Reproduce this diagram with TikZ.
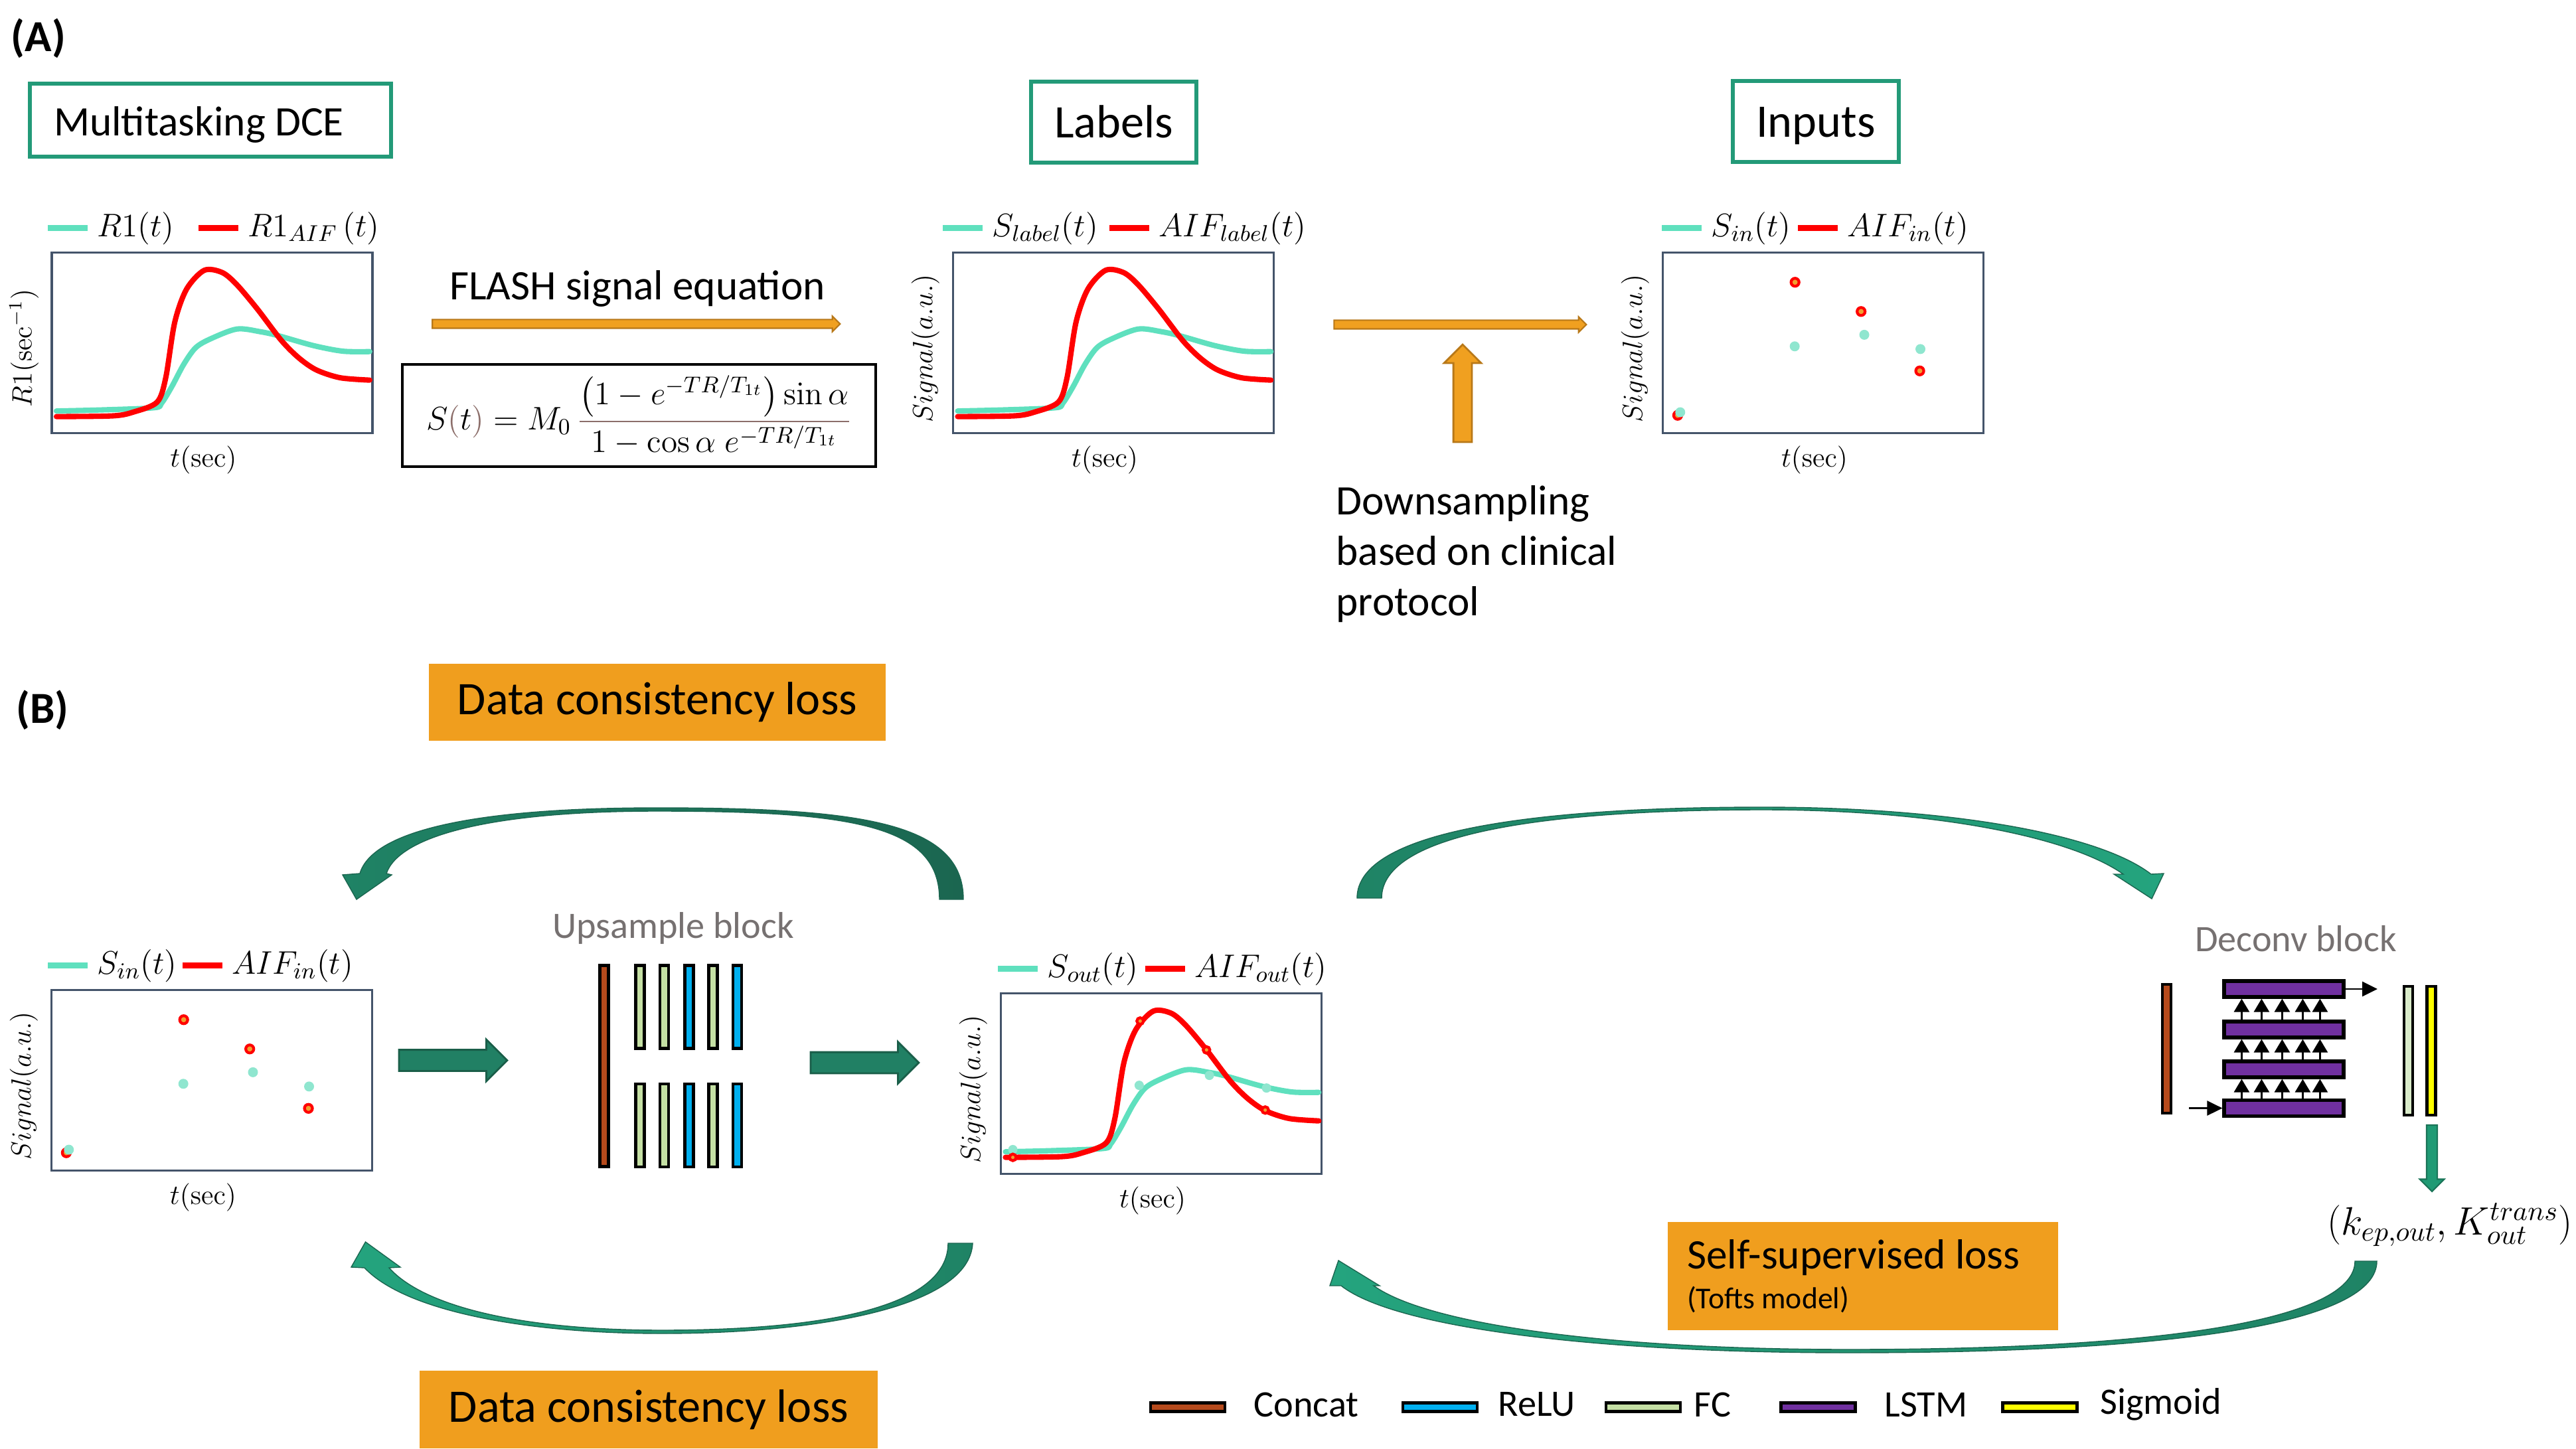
\RequirePackage{fix-cm}
\documentclass[tikz,border=0pt]{standalone}
\usepackage[no-math]{fontspec}
\setmainfont{Carlito}
\usepackage{amsmath}
\usetikzlibrary{positioning,arrows.meta,shapes.arrows}

\definecolor{boxgreen}{HTML}{239A78}
\definecolor{framegray}{HTML}{44546A}
\definecolor{tealc}{HTML}{5FE0BE}
\definecolor{lossorange}{HTML}{F09E1E}
\definecolor{arrorange}{HTML}{F0A020}
\definecolor{arredge}{HTML}{B87818}
\definecolor{eqbrown}{HTML}{8C6E6A}
\definecolor{concatc}{HTML}{B64A1C}
\definecolor{reluc}{HTML}{00B0F0}
\definecolor{fcc}{HTML}{C5E0A4}
\definecolor{fclight}{HTML}{D9EBC9}
\definecolor{lstmc}{HTML}{7030A0}
\definecolor{sigc}{HTML}{FFFF00}
\definecolor{blockgray}{HTML}{767171}
\definecolor{ribdark}{HTML}{1B6650}
\definecolor{ribmid}{HTML}{1F8365}
\definecolor{riblight}{HTML}{24A47E}
\definecolor{fatgreen}{HTML}{218064}
\definecolor{fatedge}{HTML}{1A5E49}
\definecolor{dgreen}{HTML}{1F9A74}
\definecolor{dgreenedge}{HTML}{1A7458}
\definecolor{dotorange}{HTML}{F0A030}
\definecolor{dotteal}{HTML}{8FE6CF}

\begin{document}
\begin{tikzpicture}[
    titlebox/.style={draw=boxgreen, line width=1.7pt, inner sep=0pt, text height=0.47cm, text depth=0cm},
    plotbox/.style={draw=framegray, line width=1pt, minimum width=4.83cm, minimum height=2.72cm, inner sep=0pt},
    ylab/.style={rotate=90, inner sep=0pt, font=\fontsize{12}{14}\selectfont},
    xlab/.style={inner sep=0pt, font=\fontsize{12}{14}\selectfont},
    legkey/.style={minimum width=0.6cm, minimum height=0.09cm, inner sep=0pt},
    legmath/.style={inner sep=0pt, anchor=west, font=\fontsize{14}{16}\selectfont},
    tealcurve/.style={tealc, line width=2.3pt, line cap=round, line join=round},
    redcurve/.style={red, line width=2.3pt, line cap=round, line join=round},
    reddot/.style={draw=red, fill=dotorange, line width=1.2pt},
    tealdot/.style={fill=dotteal},
    lossbox/.style={fill=lossorange, inner sep=0pt},
    layerbar/.style={draw=black, line width=1.3pt, inner sep=0pt, minimum width=0.13cm},
    blocktitle/.style={text=blockgray, inner sep=0pt, font=\fontsize{16}{19}\selectfont},
    thinarrow/.style={single arrow, fill=arrorange, draw=arredge, line width=0.6pt, inner sep=0.055cm, single arrow head extend=0.05cm},
    fatarrow/.style={single arrow, fill=fatgreen, draw=fatedge, line width=0.8pt, inner sep=0.145cm, single arrow head extend=0.155cm},
    ribbon/.style={draw=ribdark, line width=0.4pt},
    smallup/.style={line width=0.8pt, -{Triangle[width=0.23cm,length=0.2cm]}},
    sidearrow/.style={line width=0.8pt, -{Triangle[width=0.22cm,length=0.23cm]}},
]
\useasboundingbox (0,0) rectangle (38.80,-21.83);

% (A) titulos
\node[font=\bfseries\fontsize{19}{22}\selectfont] (labA) at (0.58,-0.58) {(A)};
\node[titlebox, minimum width=5.44cm, minimum height=1.10cm, font=\fontsize{18}{22}\selectfont] (mdce) at (3.17,-1.81) {Multitasking DCE\hspace*{0.35cm}};
\node[titlebox, minimum width=2.49cm, minimum height=1.22cm, font=\fontsize{20}{24}\selectfont] (labels) at (16.775,-1.84) {Labels};
\node[titlebox, minimum width=2.50cm, minimum height=1.22cm, font=\fontsize{20}{24}\selectfont] (inputs) at (27.35,-1.83) {Inputs};

% marcos de las graficas
\node[plotbox] (p1) at (3.195,-5.165) {};
\node[plotbox] (p2) at (16.77,-5.165) {};
\node[plotbox] (p3) at (27.46,-5.165) {};
\node[plotbox] (p4) at (3.19,-16.275) {};
\node[plotbox] (p5) at (17.49,-16.325) {};

% leyendas
\foreach \p/\dx/\ta/\tb/\gap in {
    p1/-0.05/{R1(t)}/{R1_{AIF}\,(t)}/0.35,
    p2/-0.14/{S_{label}(t)}/{AIF_{label}(t)}/0.16,
    p3/0.00/{S_{in}(t)}/{AIF_{in}(t)}/0.09,
    p4/-0.04/{S_{in}(t)}/{AIF_{in}(t)}/0.07,
    p5/-0.03/{S_{out}(t)}/{AIF_{out}(t)}/0.09} {
    \node[legkey, fill=tealc, anchor=west] (\p k1) at ([xshift=\dx cm, yshift=0.35cm]\p.north west) {};
    \node[legmath, right=0.13cm of \p k1] (\p t1) {$\ta$};
    \node[legkey, fill=red, right=\gap cm of \p t1] (\p k2) {};
    \node[legmath, right=0.13cm of \p k2] (\p t2) {$\tb$};
}

% etiquetas de ejes
\foreach \p/\t in {p1/{R1(\mathrm{sec}^{-1})}, p2/{Signal(a.u.)}, p3/{Signal(a.u.)}, p4/{Signal(a.u.)}, p5/{Signal(a.u.)}} {
    \node[ylab] (\p y) at ([xshift=-0.40cm, yshift=-0.08cm]\p.west) {$\t$};
    \node[xlab, below=0.17cm of \p, xshift=-0.13cm] (\p x) {$t(\mathrm{sec})$};
}

% curvas
\foreach \p in {p1,p2,p5} {
    \begin{scope}[shift={(\p.south west)}, x=4.83cm, y=2.72cm]
        \draw[tealcurve] plot[smooth, tension=0.5] coordinates
            {(0.018,0.129) (0.16,0.135) (0.323,0.147) (0.346,0.172) (0.378,0.264) (0.415,0.387) (0.452,0.479)
             (0.498,0.528) (0.581,0.583) (0.654,0.568) (0.71,0.546) (0.82,0.491) (0.912,0.46) (0.995,0.458)};
        \draw[redcurve] plot[smooth, tension=0.5] coordinates
            {(0.018,0.098) (0.194,0.102) (0.258,0.123) (0.332,0.178) (0.359,0.313) (0.387,0.62) (0.424,0.804)
             (0.479,0.908) (0.535,0.896) (0.581,0.828) (0.645,0.693) (0.719,0.521) (0.774,0.423) (0.829,0.356)
             (0.903,0.313) (0.995,0.30)};
    \end{scope}
}

% muestras
\foreach \p in {p3,p4} {
    \begin{scope}[shift={(\p.south west)}, x=4.83cm, y=2.72cm]
        \filldraw[reddot] (0.05,0.105) circle[radius=0.06cm];
        \foreach \u/\v in {0.058/0.122, 0.415/0.487, 0.632/0.551, 0.807/0.472}
            \fill[tealdot] (\u,\v) circle[radius=0.075cm];
        \foreach \u/\v in {0.416/0.842, 0.622/0.68, 0.805/0.351}
            \filldraw[reddot] (\u,\v) circle[radius=0.06cm];
    \end{scope}
}
\begin{scope}[shift={(p5.south west)}, x=4.83cm, y=2.72cm]
    \foreach \u/\v in {0.041/0.141, 0.435/0.497, 0.654/0.552, 0.832/0.482}
        \fill[tealdot] (\u,\v) circle[radius=0.07cm];
    \foreach \u/\v in {0.041/0.098, 0.438/0.853, 0.645/0.693, 0.828/0.36}
        \filldraw[reddot] (\u,\v) circle[radius=0.05cm];
\end{scope}

% ecuacion FLASH
\node[font=\fontsize{18}{22}\selectfont] (flash) at (9.60,-4.35) {FLASH signal equation};
\node[thinarrow, minimum height=6.14cm] (flarr) at (9.55,-4.88) {};
\node[draw=black, line width=1pt, minimum width=7.13cm, minimum height=1.54cm, inner sep=0pt, font=\fontsize{14}{17}\selectfont] (eq) at (9.625,-6.26)
    {$\displaystyle S{\color{eqbrown}(}t{\color{eqbrown})} = M_0\,{\color{eqbrown}\frac{\color{black}\left(1-e^{-TR/T_{1t}}\right)\sin\alpha}{\color{black}1-\cos\alpha\; e^{-TR/T_{1t}}}}$};

% submuestreo
\node[thinarrow, minimum height=3.80cm] (dsarr) at (21.96,-4.89) {};
\node[single arrow, rotate=90, fill=arrorange, draw=arredge, line width=0.8pt, inner sep=0.125cm, single arrow head extend=0.14cm, minimum height=1.47cm] (dsup) at (22.03,-5.995) {};
\node[anchor=north west, inner sep=0pt, align=flush left, font=\fontsize{18}{21.6}\selectfont] (dstext) at (20.12,-7.31) {Downsampling\\based on clinical\\protocol};

% (B)
\node[font=\bfseries\fontsize{19}{22}\selectfont] (labB) at (0.64,-10.70) {(B)};
\node[lossbox, minimum width=6.88cm, minimum height=1.16cm, font=\fontsize{20}{24}\selectfont] (dc1) at (9.90,-10.58) {Data consistency loss};
\node[lossbox, minimum width=6.90cm, minimum height=1.17cm, font=\fontsize{20}{24}\selectfont] (dc2) at (9.77,-21.235) {Data consistency loss};
\node[lossbox, text width=5.30cm, align=flush left, minimum height=1.63cm, inner xsep=0.29cm, font=\fontsize{18}{17}\selectfont] (ssl) at (28.06,-19.225)
    {Self-supervised loss\\{\fontsize{13}{16}\selectfont (Tofts model)}};

% bloque de upsample
\node[blocktitle] (utitle) at (10.14,-13.98) {Upsample block};
\node[layerbar, fill=concatc, minimum height=3.03cm] (ucat) at (9.10,-16.06) {};
\foreach \x/\c [count=\i] in {9.64/fcc, 10.005/fcc, 10.38/reluc, 10.74/fcc, 11.105/reluc} {
    \node[layerbar, fill=\c, minimum height=1.25cm] (ut\i) at (\x,-15.17) {};
    \node[layerbar, fill=\c, minimum height=1.25cm] (ub\i) at (\x,-16.955) {};
}
\node[fatarrow, minimum height=1.63cm] (ar1) at (6.745,-15.975) {};
\node[fatarrow, minimum height=1.63cm] (ar2) at (12.945,-16.01) {};

% bloque deconv
\node[blocktitle] (dtitle) at (34.58,-14.14) {Deconv block};
\node[layerbar, fill=concatc, line width=1.2pt, minimum height=1.94cm] (dcat) at (32.635,-15.80) {};
\foreach \y [count=\i] in {-14.90,-15.51,-16.11,-16.695}
    \node[layerbar, fill=lstmc, line width=1.5pt, minimum width=1.80cm, minimum height=0.24cm] (ls\i) at (34.40,\y) {};
\foreach \lo/\hi in {ls4/ls3, ls3/ls2, ls2/ls1}
    \foreach \dx in {0.29,0.59,0.90,1.21,1.47}
        \draw[smallup] ([xshift=\dx cm]\lo.north west) -- ([xshift=\dx cm]\hi.south west);
\coordinate (lin) at (32.97,-16.695);
\coordinate (lout) at (35.81,-14.90);
\draw[sidearrow] (lin) -- (ls4.west);
\draw[sidearrow] (ls1.east) -- (lout);
\node[layerbar, fill=fclight, line width=1.2pt, minimum height=1.94cm] (dfc) at (36.275,-15.83) {};
\node[layerbar, fill=sigc, line width=1.2pt, minimum height=1.94cm] (dsig) at (36.62,-15.83) {};
\node[single arrow, rotate=-90, fill=dgreen, draw=dgreenedge, line width=0.6pt, inner sep=0.07cm, single arrow head extend=0.105cm, minimum height=1.0cm] (darr) at (36.63,-17.41) {};
\node[inner sep=0pt, font=\fontsize{17}{20}\selectfont] (kout) at (36.90,-18.45) {$(k_{ep,out}, K_{out}^{trans})$};

% flechas curvas
\shadedraw[ribbon, left color=ribmid, right color=ribdark]
    (14.51,-13.55) .. controls (14.51,-12.4) and (13.0,-12.17) .. (9.9,-12.17)
    .. controls (7.0,-12.17) and (5.6,-12.55) .. (5.42,-13.16)
    -- (5.16,-13.18) -- (5.37,-13.55) -- (5.90,-13.18) -- (5.82,-13.16)
    .. controls (6.0,-12.62) and (7.3,-12.22) .. (9.9,-12.22)
    .. controls (12.9,-12.22) and (14.15,-12.45) .. (14.15,-13.55) -- cycle;
\shadedraw[ribbon, left color=riblight, right color=ribmid]
    (14.65,-18.73) .. controls (14.6,-19.7) and (12.3,-20.09) .. (9.97,-20.09)
    .. controls (7.9,-20.09) and (6.1,-19.75) .. (5.49,-19.10)
    -- (5.29,-19.09) -- (5.505,-18.71) -- (6.03,-19.09) -- (5.86,-19.10)
    .. controls (6.4,-19.7) and (7.9,-20.04) .. (9.97,-20.04)
    .. controls (12.4,-20.04) and (14.28,-19.7) .. (14.28,-18.73) -- cycle;
\shadedraw[ribbon, left color=ribmid, right color=riblight]
    (20.44,-13.53) .. controls (20.44,-12.5) and (23.2,-12.16) .. (26.55,-12.16)
    .. controls (29.3,-12.16) and (31.6,-12.55) .. (32.40,-13.17)
    -- (32.59,-13.16) -- (32.41,-13.54) -- (31.84,-13.17) -- (31.98,-13.17)
    .. controls (31.2,-12.62) and (29.2,-12.20) .. (26.55,-12.20)
    .. controls (23.3,-12.20) and (20.81,-12.55) .. (20.81,-13.53) -- cycle;
\shadedraw[ribbon, left color=riblight, right color=ribmid]
    (35.80,-19.0) .. controls (35.8,-19.9) and (33.0,-20.38) .. (27.85,-20.38)
    .. controls (24.0,-20.38) and (21.0,-20.0) .. (20.20,-19.37)
    -- (20.03,-19.37) -- (20.16,-18.99) -- (20.78,-19.37) -- (20.69,-19.37)
    .. controls (21.5,-19.95) and (24.2,-20.33) .. (27.85,-20.33)
    .. controls (32.8,-20.33) and (35.47,-19.85) .. (35.47,-19.0) -- cycle;

% leyenda de capas
\foreach \x/\c/\t/\tx in {17.89/concatc/Concat/18.88, 21.69/reluc/ReLU/22.56, 24.75/fcc/FC/25.51, 27.385/lstmc/LSTM/28.38, 30.72/sigc/Sigmoid/31.63} {
    \node[layerbar, fill=\c, line width=1.4pt, minimum width=1.12cm, minimum height=0.13cm] (k\t) at (\x,-21.20) {};
    \node[anchor=west, inner sep=0pt, font=\fontsize{16}{19}\selectfont] (t\t) at (\tx,-21.16) {\t};
}
\end{tikzpicture}
\end{document}
